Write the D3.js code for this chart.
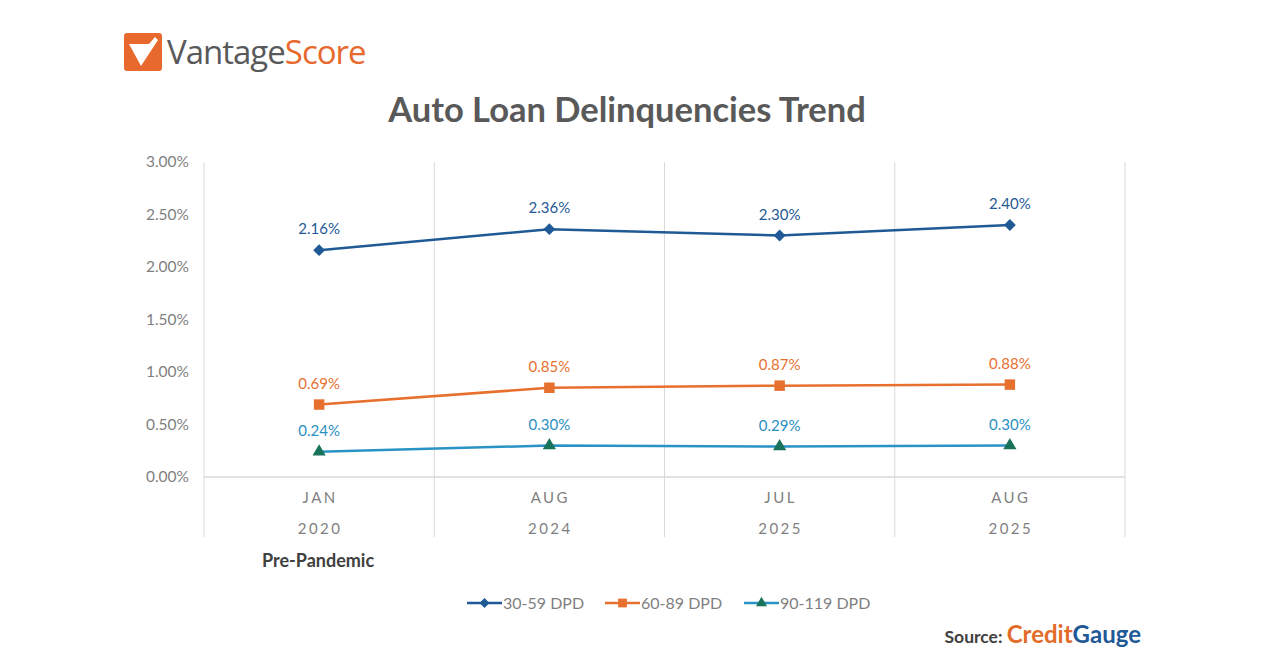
<!DOCTYPE html>
<html>
<head>
<meta charset="utf-8">
<script src="https://cdn.jsdelivr.net/npm/d3@7"></script>
<style>
  body { margin: 0; background: #fff; font-family: Lato, "Open Sans", sans-serif; }
</style>
</head>
<body>
<div id="chart"></div>
<script>
// data
var months = ["JAN", "AUG", "JUL", "AUG"]
var years = ["2020", "2024", "2025", "2025"]
var dpd30 = [2.16, 2.36, 2.30, 2.40]
var dpd60 = [0.69, 0.85, 0.87, 0.88]
var dpd90 = [0.24, 0.30, 0.29, 0.30]
var yTicks = [0, 0.5, 1.0, 1.5, 2.0, 2.5, 3.0]

// rotated square for the 30-59 marker
var symbolRhombus = {
  draw: function(ctx, size) {
    var r = Math.sqrt(size / 2)
    ctx.moveTo(0, -r); ctx.lineTo(r, 0); ctx.lineTo(0, r); ctx.lineTo(-r, 0); ctx.closePath()
  }
}

var series = [
  {name: "30-59 DPD", values: dpd30, line: "#1f5a96", marker: "#1f5a96", label: "#1f5a96", shape: symbolRhombus, size: 70},
  {name: "60-89 DPD", values: dpd60, line: "#e8702f", marker: "#e8702f", label: "#e8702f", shape: d3.symbolSquare, size: 110},
  {name: "90-119 DPD", values: dpd90, line: "#2a93c6", marker: "#18735a", label: "#2a8fc2", shape: d3.symbolTriangle, size: 75}
]

var svg = d3.select('#chart').append('svg')
  .attr('width', 1270)
  .attr('height', 665)

var cats = months.map((m, i) => i)

var x = d3.scaleBand()
  .domain(cats)
  .range([204, 1125])

var y = d3.scaleLinear()
  .domain([0, 3])
  .range([477, 162])

// logo
var logo = svg.append("g")
logo.append("rect")
  .attr("x", 124).attr("y", 33).attr("width", 38).attr("height", 38)
  .attr("rx", 3).attr("fill", "#e8692d")
logo.append("path")
  .attr("d", "M129,44 L149,44 L155,37 L158,40 L141,66 Z")
  .attr("fill", "#fff")
var lt = logo.append("text")
  .attr("x", 167).attr("y", 64)
  .attr("font-size", 33).attr("letter-spacing", -1)
  .attr("font-family", "'Open Sans', sans-serif")
lt.append("tspan").attr("fill", "#58595b").text("Vantage")
lt.append("tspan").attr("fill", "#e8692d").text("Score")

// title
svg.append("text")
  .attr("x", 627).attr("y", 122)
  .attr("text-anchor", "middle")
  .attr("font-size", 34.5).attr("font-weight", "bold")
  .attr("fill", "#595959")
  .text("Auto Loan Delinquencies Trend")

// grid
var bounds = cats.map(c => x(c)).concat([x.range()[1]])
svg.append("g").selectAll("line")
  .data(bounds)
  .join("line")
  .attr("x1", d => d).attr("x2", d => d)
  .attr("y1", 162).attr("y2", 537)
  .attr("stroke", "#d9d9d9").attr("stroke-width", 1)

svg.append("line")
  .attr("x1", 204).attr("x2", 1125)
  .attr("y1", y(0)).attr("y2", y(0))
  .attr("stroke", "#d9d9d9").attr("stroke-width", 1.5)

// y axis
var yAxis = g => g
  .attr("transform", "translate(204,0)")
  .call(d3.axisLeft(y).tickValues(yTicks).tickSize(0).tickPadding(15)
    .tickFormat(d => d.toFixed(2) + "%"))
  .call(g => g.select(".domain").remove())
  .call(g => g.selectAll("text")
    .attr("font-family", "Lato, sans-serif")
    .attr("font-size", 15.5)
    .attr("fill", "#7f7f7f"))
svg.append("g").call(yAxis)

// x axis, two rows
var xAxis = g => g
  .attr("transform", "translate(0," + y(0) + ")")
  .call(d3.axisBottom(x).tickSize(0).tickFormat(""))
  .call(g => g.select(".domain").remove())
svg.append("g").call(xAxis)
  .selectAll(".tick").each(function(d) {
    var t = d3.select(this).select("text")
      .attr("y", 0).attr("dy", null)
      .attr("font-family", "Lato, sans-serif")
      .attr("font-size", 15)
      .attr("letter-spacing", 2.5)
      .attr("fill", "#7f7f7f")
    t.append("tspan").attr("x", 1).attr("y", 26).text(months[d])
    t.append("tspan").attr("x", 1).attr("y", 57).text(years[d])
  })

svg.append("text")
  .attr("x", 262).attr("y", 567)
  .attr("font-size", 18).attr("font-weight", "bold")
  .attr("fill", "#404040")
  .text("Pre-Pandemic")

// lines
var lineFunction = d3.line()
  .x((d, i) => x(i) + x.bandwidth() / 2)
  .y(d => y(d))

series.forEach(function(s) {
  var g = svg.append("g")
  g.append("path")
    .attr("d", lineFunction(s.values))
    .attr("stroke", s.line)
    .attr("stroke-width", 2.5)
    .attr("fill", "none")
  g.selectAll("path.mk")
    .data(s.values)
    .join("path")
    .attr("class", "mk")
    .attr("transform", (d, i) => "translate(" + (x(i) + x.bandwidth() / 2) + "," + y(d) + ")")
    .attr("d", d3.symbol().type(s.shape).size(s.size))
    .attr("fill", s.marker)
  g.selectAll("text")
    .data(s.values)
    .join("text")
    .attr("x", (d, i) => x(i) + x.bandwidth() / 2)
    .attr("y", d => y(d) - 16)
    .attr("text-anchor", "middle")
    .attr("font-size", 15)
    .attr("fill", s.label)
    .text(d => d.toFixed(2) + "%")
})

// legend
var legX = [467, 605, 744]
var leg = svg.append("g")
series.forEach(function(s, i) {
  var lg = leg.append("g").attr("transform", "translate(" + legX[i] + ",603)")
  lg.append("line")
    .attr("x1", 0).attr("x2", 35).attr("y1", 0).attr("y2", 0)
    .attr("stroke", s.line).attr("stroke-width", 2.5)
  lg.append("path")
    .attr("transform", "translate(17.5,0)")
    .attr("d", d3.symbol().type(s.shape).size(s.size * 0.7))
    .attr("fill", s.marker)
  lg.append("text")
    .attr("x", 36).attr("y", 5.5)
    .attr("font-size", 16)
    .attr("fill", "#7f7f7f")
    .text(s.name)
})

// source
var src = svg.append("text")
  .attr("x", 1141).attr("y", 643)
  .attr("text-anchor", "end")
  .attr("font-weight", "bold")
src.append("tspan").attr("font-size", 17.5).attr("fill", "#404040").text("Source: ")
src.append("tspan").attr("font-size", 24).attr("fill", "#e36c2a").text("Credit")
src.append("tspan").attr("font-size", 24).attr("fill", "#1f5a96").text("Gauge")
</script>
</body>
</html>
